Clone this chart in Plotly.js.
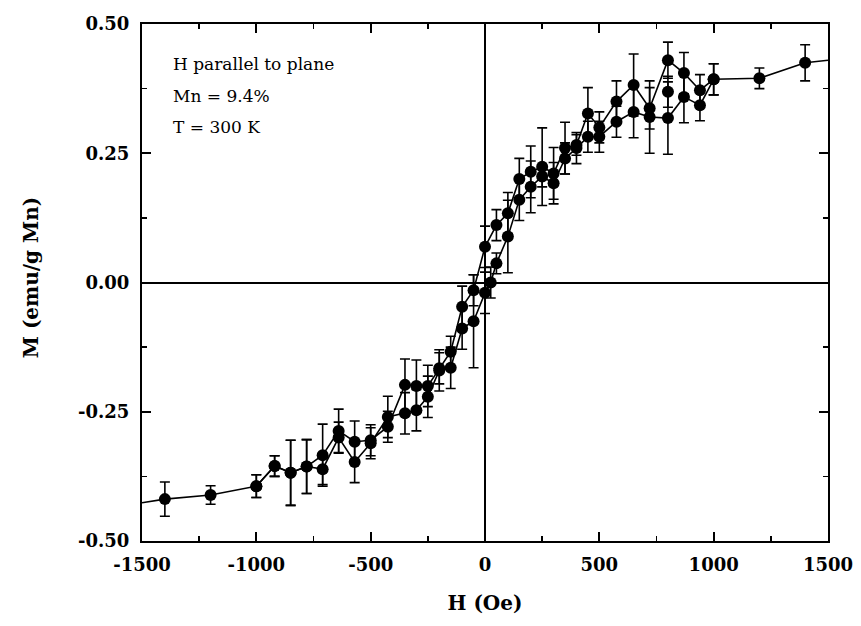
<!DOCTYPE html>
<html>
<head>
<meta charset="utf-8">
<script src="https://cdn.plot.ly/plotly-3.0.1.min.js"></script>
<style>html,body{margin:0;padding:0;background:#fff;}#chart{width:861px;height:626px;}</style>
</head>
<body>
<div id="chart"></div>
<script>
// Descending-field branch (from +H to -H)
const hDown = [1400, 1200, 1000, 940, 870, 800, 720, 650, 575, 500, 450, 400, 350, 300, 250, 200, 150, 100, 50, 0, -50, -100, -150, -200, -250, -300, -350, -425, -500, -570, -640, -710, -780, -850, -920, -1000, -1200, -1400];
const mDown = [0.425, 0.395, 0.393, 0.372, 0.405, 0.430, 0.337, 0.382, 0.350, 0.300, 0.327, 0.266, 0.260, 0.211, 0.224, 0.214, 0.200, 0.134, 0.111, 0.069, -0.015, -0.047, -0.134, -0.166, -0.200, -0.200, -0.198, -0.279, -0.305, -0.308, -0.287, -0.334, -0.356, -0.368, -0.355, -0.394, -0.411, -0.419];
const eDown = [0.035, 0.02, 0.03, 0.03, 0.04, 0.035, 0.04, 0.06, 0.04, 0.03, 0.05, 0.02, 0.05, 0.05, 0.075, 0.05, 0.04, 0.04, 0.03, 0.04, 0.03, 0.04, 0.03, 0.03, 0.04, 0.05, 0.05, 0.03, 0.03, 0.04, 0.042, 0.06, 0.052, 0.063, 0.02, 0.022, 0.018, 0.033];
// Ascending-field branch (from -H to +H)
const hUp = [-1000, -920, -850, -780, -710, -640, -570, -500, -425, -350, -300, -250, -200, -150, -100, -50, 0, 25, 50, 100, 150, 200, 250, 300, 350, 400, 450, 500, 575, 650, 720, 800, 870, 940, 1000];
const mUp = [-0.394, -0.355, -0.368, -0.356, -0.361, -0.300, -0.347, -0.311, -0.260, -0.253, -0.247, -0.221, -0.170, -0.165, -0.089, -0.075, -0.020, 0.000, 0.037, 0.089, 0.160, 0.185, 0.205, 0.192, 0.240, 0.260, 0.282, 0.282, 0.311, 0.330, 0.320, 0.318, 0.359, 0.343, 0.393];
const eUp = [0.022, 0.02, 0.063, 0.052, 0.03, 0.03, 0.04, 0.03, 0.04, 0.04, 0.04, 0.04, 0.04, 0.04, 0.04, 0.09, 0.04, 0.03, 0.02, 0.07, 0.04, 0.05, 0.02, 0.04, 0.03, 0.03, 0.03, 0.03, 0.03, 0.05, 0.07, 0.07, 0.05, 0.03, 0.03];
// Extra mid point
const hMid = [800];
const mMid = [0.369];
const eMid = [0.03];
// Guide line to the frame edges
const hEdge = [-1500, -1400, 1400, 1500];
const mEdge = [-0.426, -0.419, 0.425, 0.430];
// Tick labels (hyphen minus as in the original)
const xTickVals = [-1500, -1000, -500, 0, 500, 1000, 1500];
const xTickText = ['-1500', '-1000', '-500', '0', '500', '1000', '1500'];
const yTickVals = [-0.5, -0.25, 0, 0.25, 0.5];
const yTickText = ['-0.50', '-0.25', '0.00', '0.25', '0.50'];

const fam = 'DejaVu Serif, serif';
const tickFont = {family: fam, size: 18, color: '#000', weight: 'bold'};
const titleFont = {family: fam, size: 20, color: '#000', weight: 'bold'};
const noteFont = {family: fam, size: 17, color: '#000'};
const mk = {color: '#000', size: 12, symbol: 'circle'};
const err = (arr) => ({type: 'data', array: arr, visible: true, color: '#000', thickness: 1.6, width: 5});

const traces = [
  {x: [hEdge[0], hEdge[1]], y: [mEdge[0], mEdge[1]], mode: 'lines', line: {color: '#000', width: 1.6}, hoverinfo: 'skip'},
  {x: [hEdge[2], hEdge[3]], y: [mEdge[2], mEdge[3]], mode: 'lines', line: {color: '#000', width: 1.6}, hoverinfo: 'skip'},
  {x: hDown, y: mDown, mode: 'lines+markers', marker: mk, line: {color: '#000', width: 1.6}, error_y: err(eDown)},
  {x: hUp, y: mUp, mode: 'lines+markers', marker: mk, line: {color: '#000', width: 1.6}, error_y: err(eUp)},
  {x: hMid, y: mMid, mode: 'markers', marker: mk, error_y: err(eMid)}
];

const layout = {
  width: 861, height: 626,
  margin: {l: 142, r: 33, t: 24, b: 85},
  paper_bgcolor: '#fff', plot_bgcolor: '#fff',
  showlegend: false,
  font: noteFont,
  xaxis: {
    range: [-1500, 1500], tickvals: xTickVals, ticktext: xTickText,
    ticks: 'inside', ticklen: 9, tickwidth: 2, tickcolor: '#000',
    minor: {dtick: 250, ticks: 'inside', ticklen: 5, tickwidth: 1.5, tickcolor: '#000'},
    showline: true, linewidth: 2, linecolor: '#000', mirror: 'ticks',
    showgrid: false, zeroline: true, zerolinecolor: '#000', zerolinewidth: 2,
    tickfont: tickFont, ticklabelstandoff: 6,
    title: {text: 'H (Oe)', font: titleFont, standoff: 22}
  },
  yaxis: {
    range: [-0.5, 0.5], tickvals: yTickVals, ticktext: yTickText,
    ticks: 'inside', ticklen: 9, tickwidth: 2, tickcolor: '#000',
    minor: {dtick: 0.125, ticks: 'inside', ticklen: 5, tickwidth: 1.5, tickcolor: '#000'},
    showline: true, linewidth: 2, linecolor: '#000', mirror: 'ticks',
    showgrid: false, zeroline: true, zerolinecolor: '#000', zerolinewidth: 2,
    tickfont: tickFont, ticklabelstandoff: 7
  },
  annotations: [
    {text: 'M (emu/g Mn)', xref: 'paper', yref: 'paper', x: -0.162, y: 0.51, xanchor: 'center', yanchor: 'middle', textangle: -90, showarrow: false, font: titleFont},
    {text: 'H parallel to plane', xref: 'paper', yref: 'paper', x: 0.043, y: 0.922, xanchor: 'left', yanchor: 'middle', showarrow: false, font: noteFont},
    {text: 'Mn = 9.4%', xref: 'paper', yref: 'paper', x: 0.043, y: 0.861, xanchor: 'left', yanchor: 'middle', showarrow: false, font: noteFont},
    {text: 'T = 300 K', xref: 'paper', yref: 'paper', x: 0.043, y: 0.801, xanchor: 'left', yanchor: 'middle', showarrow: false, font: noteFont}
  ]
};

Plotly.newPlot('chart', traces, layout, {displayModeBar: false, staticPlot: true});
</script>
</body>
</html>
